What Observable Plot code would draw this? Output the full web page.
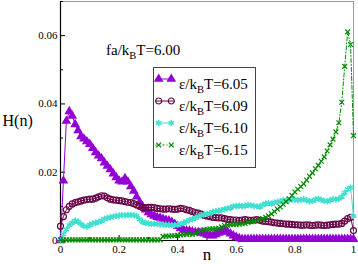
<!DOCTYPE html>
<html><head><meta charset="utf-8">
<script src="https://cdn.jsdelivr.net/npm/d3@7"></script>
<script src="https://cdn.jsdelivr.net/npm/@observablehq/plot@0.6"></script>
<style>
body{margin:0;background:#fff;}
#wrap{position:relative;width:358px;height:264px;font-family:"Liberation Serif","DejaVu Serif","Liberation Sans",Arial,sans-serif;color:#000;}
#wrap svg{position:absolute;left:0;top:0;}
.ann{position:absolute;font-size:15px;line-height:16px;white-space:nowrap;}
.sub{font-size:10.5px;position:relative;top:4px;}
#legend{position:absolute;left:153px;top:67px;width:103px;height:101px;border:1px solid #444;background:#fff;box-sizing:border-box;}
.lrow{position:absolute;left:0;width:100px;height:22px;}
.lrow svg{position:absolute;left:2px;top:5px;}
.ltext{position:absolute;left:25px;top:3px;font-size:15px;line-height:16px;white-space:nowrap;}
</style>
</head><body>
<div id="wrap"></div>
<script>
const nVals = [0.00,0.01,0.02,0.03,0.04,0.05,0.06,0.07,0.08,0.09,
0.10,0.11,0.12,0.13,0.14,0.15,0.16,0.17,0.18,0.19,
0.20,0.21,0.22,0.23,0.24,0.25,0.26,0.27,0.28,0.29,
0.30,0.31,0.32,0.33,0.34,0.35,0.36,0.37,0.38,0.39,
0.40,0.41,0.42,0.43,0.44,0.45,0.46,0.47,0.48,0.49,
0.50,0.51,0.52,0.53,0.54,0.55,0.56,0.57,0.58,0.59,
0.60,0.61,0.62,0.63,0.64,0.65,0.66,0.67,0.68,0.69,
0.70,0.71,0.72,0.73,0.74,0.75,0.76,0.77,0.78,0.79,
0.80,0.81,0.82,0.83,0.84,0.85,0.86,0.87,0.88,0.89,
0.90,0.91,0.92,0.93,0.94,0.95,0.96,0.97,0.98,0.99,1.00];

const h605 = [0,0.0175,0.0350,0.0378,0.0365,0.0340,0.0322,0.0305,0.0298,0.0290,
0.0282,0.0270,0.0258,0.0248,0.0240,0.0228,0.0218,0.0208,0.0196,0.0185,
0.0175,0.0172,0.0182,0.0172,0.0158,0.0145,0.0128,0.0112,0.0100,0.0090,
0.0082,0.0076,0.0072,0.0068,0.0066,0.0063,0.0060,0.0058,0.0054,0.0048,
0.0042,0.0036,0.0031,0.0029,0.0028,0.0026,0.0024,0.0024,0.0022,0.0020,
0.0016,0.0015,0.0014,0.0018,0.0022,0.0026,0.0028,0.0025,0.0020,0.0014,
0.0010,0.0006,0.0004,0.0004,0.0004,0.0004,0.0004,0.0004,0.0004,0.0004,
0.0004,0.0004,0.0004,0.0004,0.0004,0.0004,0.0004,0.0004,0.0004,0.0004,
0.0004,0.0004,0.0004,0.0004,0.0004,0.0004,0.0004,0.0004,0.0004,0.0004,
0.0004,0.0004,0.0004,0.0004,0.0004,0.0004,0.0004,0.0004,0.0004,0.0004,0.0004];

const h609 = [0.0042,0.0070,0.0090,0.0100,0.0107,0.0111,0.0113,0.0116,0.0118,0.0120,
0.0121,0.0121,0.0124,0.0128,0.0131,0.0130,0.0125,0.0121,0.0119,0.0118,
0.0117,0.0116,0.0114,0.0112,0.0111,0.0108,0.0104,0.0100,0.0097,0.0096,
0.0097,0.0097,0.0096,0.0094,0.0093,0.0092,0.0092,0.0093,0.0092,0.0091,
0.0092,0.0094,0.0093,0.0090,0.0088,0.0085,0.0082,0.0080,0.0077,0.0074,
0.0072,0.0070,0.0068,0.0067,0.0066,0.0066,0.0064,0.0062,0.0061,0.0060,
0.0060,0.0059,0.0060,0.0061,0.0060,0.0059,0.0060,0.0061,0.0059,0.0057,
0.0056,0.0055,0.0054,0.0052,0.0051,0.0050,0.0049,0.0048,0.0048,0.0047,
0.0046,0.0046,0.0045,0.0045,0.0046,0.0045,0.0044,0.0045,0.0046,0.0045,
0.0044,0.0045,0.0046,0.0047,0.0048,0.0048,0.0050,0.0057,0.0064,0.0068,0.0029];

const h610 = [0,0.0018,0.0032,0.0045,0.0052,0.0058,0.0055,0.0048,0.0042,0.0040,
0.0046,0.0050,0.0052,0.0054,0.0058,0.0063,0.0066,0.0068,0.0070,0.0072,
0.0073,0.0074,0.0074,0.0075,0.0075,0.0074,0.0072,0.0062,0.0055,0.0052,
0.0050,0.0049,0.0049,0.0048,0.0047,0.0047,0.0046,0.0046,0.0045,0.0045,
0.0046,0.0048,0.0052,0.0056,0.0060,0.0063,0.0066,0.0070,0.0074,0.0077,
0.0078,0.0080,0.0084,0.0086,0.0087,0.0089,0.0092,0.0094,0.0096,0.0100,
0.0101,0.0102,0.0100,0.0102,0.0104,0.0103,0.0101,0.0100,0.0099,0.0104,
0.0108,0.0110,0.0108,0.0111,0.0113,0.0115,0.0118,0.0117,0.0118,0.0119,
0.0120,0.0118,0.0119,0.0121,0.0118,0.0115,0.0116,0.0120,0.0122,0.0119,
0.0116,0.0115,0.0118,0.0121,0.0120,0.0122,0.0128,0.0140,0.0150,0.0155,0.0072];

const h615 = [0.0002,0.0002,0.0002,0.0002,0.0002,0.0002,0.0002,0.0002,0.0002,0.0002,
0.0002,0.0002,0.0002,0.0002,0.0002,0.0002,0.0002,0.0002,0.0002,0.0002,
0.0002,0.0002,0.0002,0.0002,0.0002,0.0002,0.0002,0.0002,0.0002,0.0002,
0.0002,0.0002,0.0002,0.0002,0.0002,0.0012,0.0013,0.0013,0.0014,0.0014,
0.0015,0.0016,0.0017,0.0018,0.0019,0.0018,0.0020,0.0025,0.0030,0.0032,
0.0033,0.0034,0.0034,0.0035,0.0036,0.0040,0.0044,0.0045,0.0046,0.0046,
0.0047,0.0048,0.0049,0.0050,0.0053,0.0055,0.0056,0.0058,0.0061,0.0064,
0.0068,0.0072,0.0078,0.0085,0.0092,0.0098,0.0106,0.0114,0.0122,0.0132,
0.0142,0.0150,0.0158,0.0166,0.0177,0.0188,0.0198,0.0210,0.0220,0.0232,
0.0245,0.0262,0.0280,0.0297,0.0318,0.0345,0.0405,0.0510,0.0611,0.0574,0.0307];

const seriesLabels = ["6.05","6.09","6.10","6.15"];
const seriesColors = ["#9400d3","#670748","#40e0d0","#008b00"];
const xMajor = [0,0.2,0.4,0.6,0.8,1];
const xMinor = [0.1,0.3,0.5,0.7,0.9];
const xTickLabels = ["0","0.2","0.4","0.6","0.8","1"];
const yMajor = [0,0.02,0.04,0.06];
const yMinor = [0.01,0.03,0.05,0.07];
const yTickLabels = ["0","0.02","0.04","0.06"];
const annotation = "fa/k|B|T=6.00";

const allValues = [h605,h609,h610,h615];
const tables = allValues.map(vals => nVals.map((n,i)=>({n, h: vals[i]})));

const FONT = "'Liberation Serif','DejaVu Serif','Liberation Sans',Arial,sans-serif";
const W=358,H=264, mL=60, mR=5, mT=1, mB=24;
const fw = W-mL-mR, fh = H-mT-mB;

const chart = Plot.plot({
  width:W, height:H, marginLeft:mL, marginRight:mR, marginTop:mT, marginBottom:mB,
  x:{domain:[0,1]}, y:{domain:[0,0.07]},
  style:{fontFamily:FONT, fontSize:"11px", background:"transparent", overflow:"visible", color:"#000"},
  marks:[
    Plot.frame({stroke:"#999"}),
    Plot.axisX(xMajor,{tickSize:0, tickPadding:5, tickFormat:d=>xTickLabels[xMajor.indexOf(d)], label:null, fontSize:11}),
    Plot.axisY(yMajor,{tickSize:0, tickPadding:3, tickFormat:d=>yTickLabels[yMajor.indexOf(d)], label:null, fontSize:11}),
    Plot.ruleX(xMajor,{insetTop:fh-5, stroke:"#000"}),
    Plot.ruleX(xMinor,{insetTop:fh-3, stroke:"#000"}),
    Plot.ruleY(yMajor,{insetRight:fw-5, stroke:"#000"}),
    Plot.ruleY(yMinor,{insetRight:fw-3, stroke:"#000"}),
    Plot.ruleY([0],{stroke:"#000", strokeWidth:1.2}),
    Plot.ruleX([0],{stroke:"#000", strokeWidth:1.2}),
    Plot.line(tables[0],{x:"n",y:"h",stroke:seriesColors[0],strokeWidth:1}),
    Plot.dot(tables[0],{x:"n",y:"h",symbol:"triangle",fill:seriesColors[0],r:3.6}),
    Plot.line(tables[1],{x:"n",y:"h",stroke:seriesColors[1],strokeWidth:1}),
    Plot.dot(tables[1],{x:"n",y:"h",symbol:"circle",stroke:seriesColors[1],fill:"none",r:3,strokeWidth:1.2}),
    Plot.line(tables[2],{x:"n",y:"h",stroke:seriesColors[2],strokeWidth:1}),
    Plot.dot(tables[2],{x:"n",y:"h",symbol:"asterisk",stroke:seriesColors[2],r:3,strokeWidth:1.5}),
    Plot.line(tables[3],{x:"n",y:"h",stroke:seriesColors[3],strokeWidth:1,strokeDasharray:"4,2,1,2"}),
    Plot.dot(tables[3],{x:"n",y:"h",symbol:"times",stroke:seriesColors[3],r:2.3,strokeWidth:1.2}),
    Plot.text(["H(n)"],{text:d=>d, frameAnchor:"left", dx:-58, textAnchor:"start", fontSize:16, fontFamily:FONT}),
    Plot.text(["n"],{text:d=>d, frameAnchor:"bottom", dy:19, fontSize:17, fontFamily:FONT})
  ]
});
const wrap = document.getElementById("wrap");
wrap.appendChild(chart);

function subHTML(s){
  const p = s.split("|");
  return p[0] + '<span class="sub">' + p[1] + '</span>' + p[2];
}
const ann = document.createElement("div");
ann.className="ann";
ann.style.left="106px"; ann.style.top="42px";
ann.innerHTML = subHTML(annotation);
wrap.appendChild(ann);

const legend = document.createElement("div");
legend.id="legend";
wrap.appendChild(legend);
const symbols = [d3.symbolTriangle, d3.symbolCircle, d3.symbolAsterisk, d3.symbolTimes];
const rs = [3.6,3,3,2.3];
const rowCenters = [15.7,38,59.7,82.3];
seriesLabels.forEach((lab,i)=>{
  const row = document.createElement("div");
  row.className="lrow";
  row.style.top=(rowCenters[i]-11)+"px";
  const svg = d3.create("svg").attr("width",22).attr("height",12);
  svg.append("line").attr("x1",1.5).attr("x2",20).attr("y1",6).attr("y2",6)
    .attr("stroke",seriesColors[i]).attr("stroke-width",1)
    .attr("stroke-dasharray", i===3 ? "2,2,1,2" : null);
  const path = d3.symbol(symbols[i], Math.PI*rs[i]*rs[i])();
  [4.7,17.3].forEach(cx=>{
    const p = svg.append("path").attr("d",path).attr("transform",`translate(${cx},6)`);
    if(i===0) p.attr("fill",seriesColors[i]);
    else p.attr("fill","none").attr("stroke",seriesColors[i]).attr("stroke-width", i===2?1.5:1.2);
  });
  row.appendChild(svg.node());
  const t = document.createElement("div");
  t.className="ltext";
  t.innerHTML = subHTML("ε/k|B|T=" + lab);
  row.appendChild(t);
  legend.appendChild(row);
});
</script>
</body></html>
